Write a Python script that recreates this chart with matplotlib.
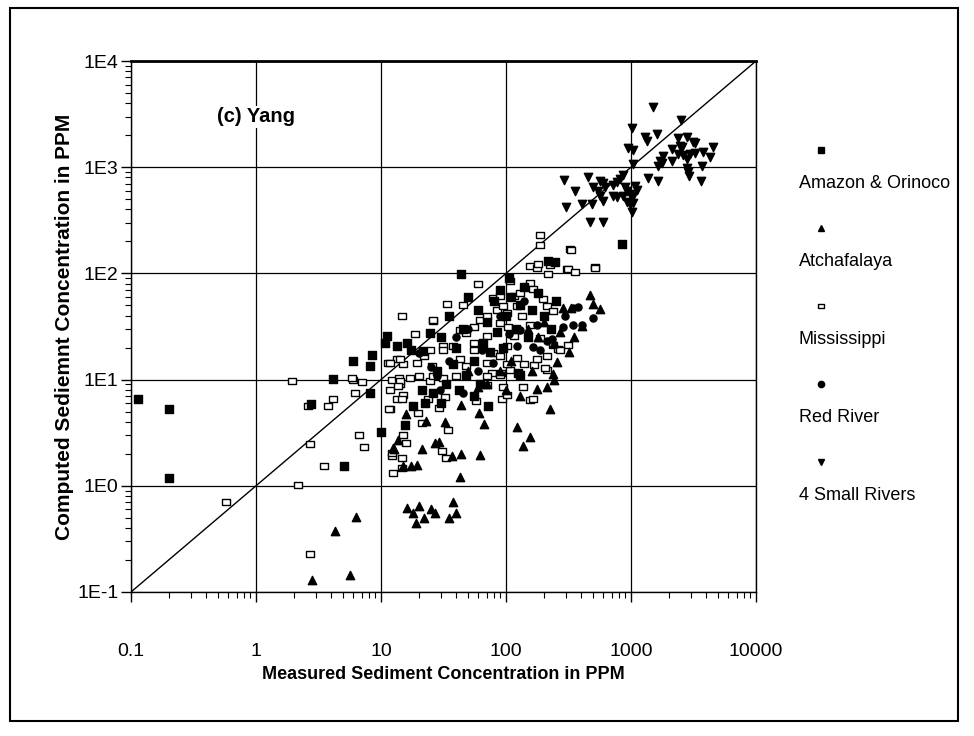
import matplotlib
matplotlib.use("Agg")
import matplotlib.pyplot as plt
from matplotlib.lines import Line2D
from matplotlib.patches import Rectangle
from matplotlib.ticker import FixedLocator, FixedFormatter, LogLocator, NullFormatter

plt.rcParams['font.family'] = ['Liberation Sans', 'DejaVu Sans']

# tick values / labels
x_ticks = [0.1, 1, 10, 100, 1000, 10000]
x_labels = ["0.1", "1", "10", "100", "1000", "10000"]
y_ticks = [0.1, 1, 10, 100, 1000, 10000]
y_labels = ["1E-1", "1E0", "1E1", "1E2", "1E3", "1E4"]

series_names = ["Amazon & Orinoco", "Atchafalaya", "Mississippi", "Red River", "4 Small Rivers"]

# Amazon & Orinoco (filled squares): measured, computed
amazon_x = [0.113, 0.2, 0.2, 2.75, 5.1, 10, 8.1, 4.15, 6.0, 8.4, 8.2, 11.1, 10.7, 13.4, 16.1,
            17.5, 24.7, 21.8, 15.6, 21.2, 18.1, 22.5, 43.6, 218, 247, 843, 72, 125, 129,
            30, 35, 45, 50, 60, 70, 80, 90, 100, 110, 120, 130, 150, 160, 40, 55, 65, 75,
            85, 95, 28, 33, 38, 48, 26, 30, 42, 55, 62, 140, 180, 200, 230, 250, 105]
amazon_y = [6.6, 5.3, 1.18, 5.9, 1.52, 3.2, 7.4, 10.2, 15.1, 17.2, 13.4, 26, 22, 20.6, 22,
            19.2, 27.5, 18.5, 3.76, 8.05, 5.6, 6.0, 98, 131, 128, 188, 5.7, 11.6, 11.1,
            25, 40, 30, 60, 45, 35, 55, 70, 40, 60, 30, 50, 25, 45, 20, 15, 22, 18,
            28, 20, 12, 9, 14, 11, 7.5, 6, 8, 7, 9, 75, 65, 40, 30, 55, 90]

# Atchafalaya (filled up triangles)
atch_x = [2.79, 5.6, 4.3, 6.3, 12.5, 13.7, 15.8, 22.9, 21.2, 27, 12.7, 15.1, 17.5, 19.3,
          255, 237, 176, 212, 225, 122, 156, 137, 61, 67, 32.5, 44, 44, 62, 43, 29, 36.8,
          16, 18, 19, 20, 22, 25, 27, 35, 38, 40,
          470, 499, 565, 287, 334, 403, 150, 180, 200, 240, 270, 320, 350, 110, 90, 70,
          100, 130, 160, 240, 60, 50]
atch_y = [0.13, 0.145, 0.376, 0.51, 2.27, 2.72, 4.7, 4.1, 2.22, 2.53, 2.22, 1.52, 1.54, 1.57,
          14.6, 11.3, 8.2, 8.45, 5.3, 3.58, 2.86, 2.38, 4.9, 3.85, 4.0, 5.8, 1.99, 1.96, 1.2, 2.6, 1.89,
          0.62, 0.55, 0.45, 0.65, 0.5, 0.6, 0.55, 0.5, 0.7, 0.55,
          63, 51, 46, 47.5, 47.5, 32, 30, 25, 35, 22, 28, 18, 25, 15, 12, 9,
          8, 7, 12, 10, 8.5, 12]

# Mississippi (open squares)
miss_x = [0.575, 2.18, 2.7, 2.7, 3.52, 6.7, 7.3, 2.6, 3.8, 4.15, 6.2, 1.93, 6.0, 7.0, 11.8,
          12.2, 12.4, 13.4, 14.6, 26, 18.7, 5.9, 11.4, 13.4, 15.1, 12.2, 14, 17.1, 14.2,
          19.3, 25.4, 24.7, 15.1, 14.6, 11.6, 19.9, 23.7, 15.1, 15.9, 12.2, 14.6, 14.8, 21.2,
          70, 95, 137, 156, 93, 101, 58, 32.5, 29, 34.5, 31, 33, 212, 262, 167, 139, 176, 77, 92,
          187, 187, 325, 156, 176, 225, 306, 218, 33.6, 60, 26.2, 31.5, 45.5, 79, 89.5, 108,
          181, 315, 356, 515, 156, 164, 199, 212, 239, 134, 156, 187, 239, 315, 212, 205, 108,
          164, 43, 48, 55, 62, 70, 84, 95, 101, 122, 116, 129, 89.5, 104, 116, 70, 55, 55, 79,
          101, 89.5, 122, 70, 101, 43, 48, 26, 31.5, 40, 70, 89.5, 20.3, 11.8, 14.2, 13.7,
          11.8, 14.2, 22, 24.7, 31.5, 37.8, 513, 334, 270]
miss_y = [0.71, 1.02, 0.228, 2.49, 1.52, 2.98, 2.3, 5.7, 5.6, 6.6, 7.5, 9.6, 10, 9.4, 5.3,
          1.89, 1.33, 6.5, 39.5, 36, 26.6, 10.4, 14.4, 15.5, 13.9, 10, 10.4, 10.4, 9.0,
          14.4, 13.4, 9.6, 7.2, 6.5, 5.3, 4.85, 6.5, 3.03, 2.53, 2.03, 1.82, 1.47, 3.9,
          8.8, 8.5, 8.5, 6.4, 6.5, 7.1, 6.3, 6.9, 5.4, 3.33, 2.14, 1.82, 12.4, 19.5, 13.6, 14.1, 15.8, 11.6, 11.6,
          228, 184, 168, 117, 113, 119, 111, 98, 51, 79, 36.8, 20.6, 49.9, 59, 61, 84.5,
          122, 109, 103, 116, 82, 71, 57, 49, 44, 39.5, 33, 24.7, 21.4, 21.4, 16.6, 12.9, 12.4,
          6.5, 29.5, 27.5, 31.6, 36.8, 39.5, 45.7, 49, 42.6, 49, 61, 65, 34.3, 31.6, 25.8, 25.8, 22, 19.2, 17.8,
          20.6, 16.6, 16, 14.4, 13.9, 15.5, 13.4, 10.8, 10.4, 10.8, 10.8, 11.1, 10.8, 8.05, 9.6, 8.65,
          14.4, 15.5, 16.8, 19.2, 19.2, 20.6, 113, 166, 19.2]

# Red River (filled circles)
red_x = [297, 345, 499, 379, 287, 345, 403, 212, 232, 176, 122, 79, 164, 187, 64, 27.9,
         29.6, 20.3, 105, 129, 50, 40, 90, 140, 60, 35, 25, 45]
red_y = [39.5, 33, 38, 48.5, 31.5, 47, 33, 23, 24.2, 33, 20.6, 14.4, 20.2, 19.2, 19.2, 10.8,
         8.05, 17.8, 26.6, 29.5, 30, 25, 40, 55, 12, 15, 13, 7.5]

# 4 Small Rivers (filled down triangles)
small_x = [1490, 1010, 2500, 1290, 1340, 1600, 2380, 2790, 3130, 3250, 2470, 2540, 946, 1040,
           2110, 4530, 2380, 2600, 2970, 3250, 3770, 4290, 1800, 1710, 2120, 2790, 1640, 1760,
           3680, 1040, 2790, 2860, 2910, 1370, 1640, 3630, 453, 497, 565, 597, 619, 718, 773,
           817, 863, 895, 929, 982, 1080, 1110, 1040, 718, 773, 863, 929, 982, 1040, 545, 565,
           597, 406, 488, 1020, 470, 597, 291, 356, 302]
small_y = [3660, 2330, 2770, 1920, 1770, 2050, 1880, 1920, 1720, 1680, 1590, 1540, 1510, 1460,
           1480, 1540, 1330, 1310, 1330, 1360, 1390, 1250, 1280, 1150, 1150, 1190, 1030, 1090,
           1020, 1070, 980, 898, 828, 787, 743, 743, 805, 652, 743, 706, 647, 676, 721,
           771, 841, 647, 598, 556, 665, 611, 535, 535, 521, 535, 468, 448, 458, 598, 535,
           481, 448, 448, 378, 303, 305, 754, 594, 420]

W, H = 974, 736
fig = plt.figure(figsize=(W / 100, H / 100), dpi=100)
ax = fig.add_axes([131 / W, 1 - 592 / H, 625 / W, 531 / H])

ax.set_xscale("log")
ax.set_yscale("log")
ax.set_xlim(0.1, 10000)
ax.set_ylim(0.1, 10000)

rect_marker = [(-1, -0.7), (1, -0.7), (1, 0.7), (-1, 0.7), (-1, -0.7)]

ax.plot([0.1, 10000], [0.1, 10000], color="black", lw=1.0, zorder=2)
ax.scatter(miss_x, miss_y, marker=rect_marker, s=40, facecolors="white", edgecolors="black",
           linewidths=1.0, zorder=3)
ax.scatter(amazon_x, amazon_y, marker="s", s=28, color="black", zorder=4)
ax.scatter(atch_x, atch_y, marker="^", s=36, color="black", zorder=4)
ax.scatter(red_x, red_y, marker="o", s=26, color="black", zorder=4)
ax.scatter(small_x, small_y, marker="v", s=36, color="black", zorder=4)

ax.xaxis.set_major_locator(FixedLocator(x_ticks))
ax.xaxis.set_major_formatter(FixedFormatter(x_labels))
ax.yaxis.set_major_locator(FixedLocator(y_ticks))
ax.yaxis.set_major_formatter(FixedFormatter(y_labels))
for axis in (ax.xaxis, ax.yaxis):
    axis.set_minor_locator(LogLocator(base=10, subs=range(2, 10), numticks=20))
    axis.set_minor_formatter(NullFormatter())

ax.tick_params(which="major", direction="out", length=7, width=1, labelsize=14)
ax.tick_params(axis="x", which="major", pad=30)
ax.tick_params(axis="y", which="major", pad=2)
ax.tick_params(which="minor", direction="out", length=4, width=0.8)
ax.grid(True, which="major", color="black", lw=0.9)
ax.set_axisbelow(True)
for sp in ax.spines.values():
    sp.set_linewidth(1.0)
ax.spines["top"].set_linewidth(2.0)

ax.set_xlabel("Measured Sediment Concentration in PPM", fontsize=13, fontweight="bold", labelpad=4)
ax.set_ylabel("Computed Sediemnt Concentration in PPM", fontsize=15, fontweight="bold", labelpad=2)

ax.text(0.138, 0.895, "(c) Yang", transform=ax.transAxes, fontsize=14.5, fontweight="bold",
        va="center", ha="left", zorder=5,
        bbox=dict(facecolor="white", edgecolor="none", pad=1))

# legend on the right: marker above each label
legend_markers = ["s", "^", "rect", "o", "v"]
for i, name in enumerate(series_names):
    my = 150 + i * 78
    ty = my + 33
    m = legend_markers[i]
    if m == "rect":
        fig.add_artist(Line2D([821 / W], [1 - my / H], marker=rect_marker, markersize=5,
                              markerfacecolor="white", markeredgecolor="black", mew=1.0,
                              linestyle="none"))
    else:
        fig.add_artist(Line2D([821 / W], [1 - my / H], marker=m, markersize=4.5,
                              color="black", linestyle="none"))
    fig.text(799 / W, 1 - ty / H, name, fontsize=13, va="center", ha="left")

fig.add_artist(Rectangle((10 / W, 1 - 721 / H), 948 / W, 713 / H, transform=fig.transFigure,
                         fill=False, edgecolor="black", lw=1.5))

fig.savefig("out.png", dpi=100)
